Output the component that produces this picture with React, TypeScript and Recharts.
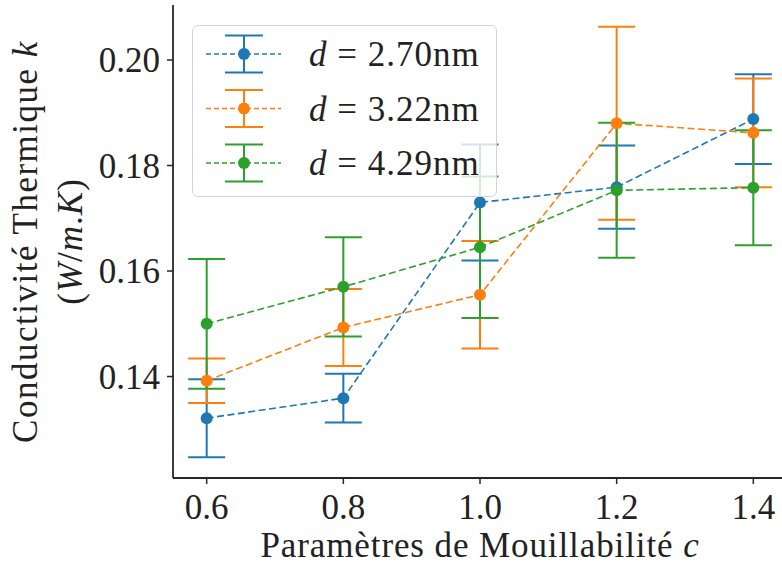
import React from 'react';
import { ComposedChart, Line, XAxis, YAxis, ErrorBar, Legend } from 'recharts';

// paramètre de mouillabilité
const C_VALUES = [0.6, 0.8, 1.0, 1.2, 1.4];

// conductivité thermique + incertitudes, une série par diamètre
const K_270 = [0.1321, 0.1359, 0.173, 0.1759, 0.1888];
const ERR_270 = [0.0074, 0.0046, 0.011, 0.0079, 0.0085];
const K_322 = [0.1392, 0.1493, 0.1555, 0.188, 0.1862];
const ERR_322 = [0.0042, 0.0073, 0.0102, 0.0183, 0.0103];
const K_429 = [0.15, 0.157, 0.1645, 0.1753, 0.1758];
const ERR_429 = [0.0123, 0.0094, 0.0134, 0.0128, 0.0109];

const X_TICKS = [0.6, 0.8, 1.0, 1.2, 1.4];
const Y_TICKS = [0.14, 0.16, 0.18, 0.2];
const LEGEND_LABELS = ['2.70', '3.22', '4.29'];

const SERIES = [
  { key: 'k1', err: 'e1', color: '#1f77b4', label: LEGEND_LABELS[0] },
  { key: 'k2', err: 'e2', color: '#ff7f0e', label: LEGEND_LABELS[1] },
  { key: 'k3', err: 'e3', color: '#2ca02c', label: LEGEND_LABELS[2] },
];

const data = C_VALUES.map((c, i) => ({
  c,
  k1: K_270[i],
  e1: ERR_270[i],
  k2: K_322[i],
  e2: ERR_322[i],
  k3: K_429[i],
  e3: ERR_429[i],
}));

const FONT = '"Liberation Serif", "Times New Roman", serif';
const AXIS = '#262626';

const XTick = (props: any) => (
  <text x={props.x} y={props.y + 35} textAnchor="middle" fontFamily={FONT} fontSize={35} fill="#222">
    {props.payload.value.toFixed(1)}
  </text>
);

const YTick = (props: any) => (
  <text x={props.x} y={props.y + 12} textAnchor="end" fontFamily={FONT} fontSize={35} fill="#222">
    {props.payload.value.toFixed(2)}
  </text>
);

const YTitle = (props: any) => {
  const vb = props.viewBox;
  const cy = vb.y + vb.height / 2;
  return (
    <g fontFamily={FONT} fontSize={35} fill="#222">
      <text x={37} y={cy} textAnchor="middle" letterSpacing={1.5} transform={`rotate(-90, 37, ${cy})`}>
        Conductivité Thermique <tspan fontStyle="italic">k</tspan>
      </text>
      <text x={82} y={cy} textAnchor="middle" letterSpacing={1} transform={`rotate(-90, 82, ${cy})`}>
        (<tspan fontStyle="italic">W</tspan>/<tspan fontStyle="italic">m</tspan>.<tspan fontStyle="italic">K</tspan>)
      </text>
    </g>
  );
};

const XTitle = (props: any) => {
  const vb = props.viewBox;
  return (
    <text x={vb.x + vb.width / 2} y={557} textAnchor="middle" fontFamily={FONT} fontSize={35} fill="#222" letterSpacing={0.9}>
      Paramètres de Mouillabilité <tspan fontStyle="italic">c</tspan>
    </text>
  );
};

const LegendBox = () => (
  <div
    style={{
      width: 303,
      height: 170,
      border: '1px solid #d4d4d4',
      borderRadius: 6,
      background: 'rgba(255,255,255,0.8)',
    }}
  >
    <svg width={303} height={170}>
      {SERIES.map((s, i) => {
        const cy = 28 + i * 54.5;
        return (
          <g key={s.key}>
            <line x1={13} x2={88} y1={cy} y2={cy} stroke={s.color} strokeWidth={1.6} strokeDasharray="5 3" />
            <line x1={51} x2={51} y1={cy - 18.5} y2={cy + 18.5} stroke={s.color} strokeWidth={2} />
            <line x1={32} x2={70} y1={cy - 18.5} y2={cy - 18.5} stroke={s.color} strokeWidth={2} />
            <line x1={32} x2={70} y1={cy + 18.5} y2={cy + 18.5} stroke={s.color} strokeWidth={2} />
            <circle cx={51} cy={cy} r={6} fill={s.color} />
            <text x={116} y={cy + 12} fontFamily={FONT} fontSize={35} fill="#222" letterSpacing={1}>
              <tspan fontStyle="italic">d</tspan> = {s.label}nm
            </text>
          </g>
        );
      })}
    </svg>
  </div>
);

export default function App() {
  return (
    <div style={{ position: 'absolute', left: 0, top: 0, width: 782, height: 567, overflow: 'hidden', background: '#fff' }}>
      <ComposedChart width={800} height={567} data={data} margin={{ top: 5, right: 13, bottom: 29, left: 73 }}>
        <XAxis
          dataKey="c"
          type="number"
          domain={[0.5507, 1.4493]}
          ticks={X_TICKS}
          allowDataOverflow
          height={60}
          tickSize={6}
          tickMargin={0}
          tick={XTick}
          axisLine={{ stroke: AXIS, strokeWidth: 1.8 }}
          tickLine={{ stroke: AXIS, strokeWidth: 1.5 }}
          label={<XTitle />}
        />
        <XAxis
          xAxisId="top"
          orientation="top"
          dataKey="c"
          type="number"
          domain={[0.5507, 1.4493]}
          height={0}
          tick={false}
          tickLine={false}
          axisLine={{ stroke: AXIS, strokeWidth: 1.8 }}
        />
        <YAxis
          type="number"
          domain={[0.12076, 0.21043]}
          ticks={Y_TICKS}
          allowDataOverflow
          width={100}
          tickSize={6}
          tickMargin={7}
          tick={YTick}
          axisLine={{ stroke: AXIS, strokeWidth: 1.8 }}
          tickLine={{ stroke: AXIS, strokeWidth: 1.5 }}
          label={<YTitle />}
        />
        <Legend
          layout="horizontal"
          verticalAlign="middle"
          align="center"
          content={<LegendBox />}
          wrapperStyle={{ left: 192, top: 25, width: 305, height: 172 }}
        />
        {SERIES.map((s) => (
          <Line
            key={s.key}
            dataKey={s.key}
            type="linear"
            stroke={s.color}
            strokeWidth={1.6}
            strokeDasharray="7 3.5"
            dot={{ r: 6, fill: s.color, stroke: 'none' }}
            activeDot={false}
            isAnimationActive={false}
          >
            <ErrorBar dataKey={s.err} width={18.5} stroke={s.color} strokeWidth={2} direction="y" isAnimationActive={false} />
          </Line>
        ))}
      </ComposedChart>
    </div>
  );
}
